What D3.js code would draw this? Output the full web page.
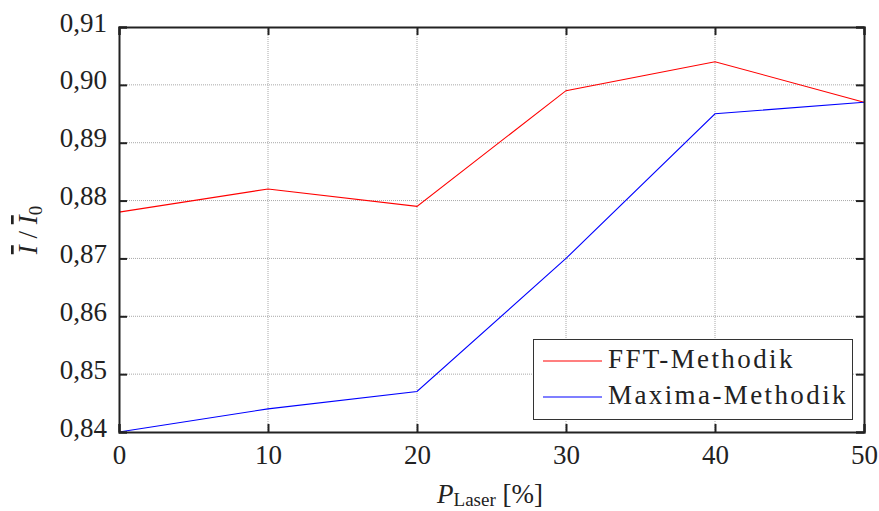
<!DOCTYPE html>
<html><head><meta charset="utf-8">
<script src="https://cdn.jsdelivr.net/npm/d3@7"></script>
<style>body{margin:0;background:#fff}svg{display:block}text{font-family:"Liberation Serif","DejaVu Serif",serif;fill:#222}</style>
</head><body><svg id="c" width="879" height="511"></svg>
<script>
const xValues = [0, 10, 20, 30, 40, 50];
const fftValues = [0.878, 0.882, 0.879, 0.899, 0.904, 0.897];
const maximaValues = [0.840, 0.844, 0.847, 0.870, 0.895, 0.897];
const xTicks = [0, 10, 20, 30, 40, 50];
const yTicks = [0.84, 0.85, 0.86, 0.87, 0.88, 0.89, 0.90, 0.91];
const seriesNames = ["FFT-Methodik", "Maxima-Methodik"];
const seriesColors = ["#ff0000", "#0000ff"];

const svg = d3.select("#c");
const L = 119, R = 864, T = 27, B = 432;
const x = d3.scaleLinear().domain([0, 50]).range([L, R]);
const y = d3.scaleLinear().domain([0.84, 0.91]).range([B, T]);
const fmt = d => d3.format(".2f")(d).replace(".", ",");
const FS = 27;

// grid
const g = svg.append("g");
g.selectAll(".gx").data(xTicks.slice(1, -1)).enter().append("line")
  .attr("x1", d => x(d)).attr("x2", d => x(d)).attr("y1", T).attr("y2", B)
  .attr("stroke", "#a8a8a8").attr("stroke-width", 1).attr("stroke-dasharray", "1,1");
g.selectAll(".gy").data(yTicks.slice(1, -1)).enter().append("line")
  .attr("y1", d => y(d)).attr("y2", d => y(d)).attr("x1", L).attr("x2", R)
  .attr("stroke", "#a8a8a8").attr("stroke-width", 1).attr("stroke-dasharray", "1,1");

// lines
const line = d3.line().x((d, i) => x(xValues[i])).y(d => y(d));
[fftValues, maximaValues].forEach((vals, k) => {
  svg.append("path").datum(vals).attr("d", line).attr("fill", "none")
    .attr("stroke", seriesColors[k]).attr("stroke-width", 1.1);
});

// axes (inward ticks)
const tk = 8;
const axB = svg.append("g").attr("transform", `translate(0,${B})`)
  .call(d3.axisBottom(x).tickValues(xTicks).tickSize(-tk).tickPadding(14).tickFormat(d3.format("d")));
const axT = svg.append("g").attr("transform", `translate(0,${T})`)
  .call(d3.axisTop(x).tickValues(xTicks).tickSize(-tk).tickFormat(""));
const axL = svg.append("g").attr("transform", `translate(${L},0)`)
  .call(d3.axisLeft(y).tickValues(yTicks).tickSize(-tk).tickPadding(12).tickFormat(fmt));
const axR = svg.append("g").attr("transform", `translate(${R},0)`)
  .call(d3.axisRight(y).tickValues(yTicks).tickSize(-tk).tickFormat(""));
[axB, axT, axL, axR].forEach(a => {
  a.select(".domain").attr("stroke", "#222").attr("stroke-width", 2);
  a.selectAll(".tick line").attr("stroke", "#222").attr("stroke-width", 2);
  a.selectAll("text").style("font-family", '"Liberation Serif","DejaVu Serif",serif')
    .style("font-size", FS + "px").attr("fill", "#222");
});
axL.selectAll("text").attr("dy", "4px");
axB.selectAll("text").attr("dy", "0.66em");

// legend
const lg = svg.append("g");
lg.append("rect").attr("x", 533.5).attr("y", 339.5).attr("width", 319).attr("height", 80)
  .attr("fill", "#fff").attr("stroke", "#333").attr("stroke-width", 1);
seriesNames.forEach((n, i) => {
  const yy = 361 + i * 36;
  lg.append("line").attr("x1", 543).attr("x2", 602).attr("y1", yy).attr("y2", yy)
    .attr("stroke", seriesColors[i]).attr("stroke-width", 1.1);
  lg.append("text").attr("x", 608).attr("y", yy + 7).style("font-size", FS + "px")
    .style("letter-spacing", "2.4px").text(n);
});

// x label
const xl = svg.append("text").attr("x", 490).attr("y", 503).attr("text-anchor", "middle").style("font-size", FS + "px");
xl.append("tspan").style("font-style", "italic").text("P");
xl.append("tspan").attr("dy", 3).style("font-size", "19px").text("Laser");
xl.append("tspan").attr("dy", -3).text(" [%]");

// y label
const yl = svg.append("text").attr("transform", "translate(37,230) rotate(-90)")
  .attr("text-anchor", "middle").style("font-size", FS + "px");
yl.append("tspan").style("font-style", "italic").style("text-decoration", "overline").text("I");
yl.append("tspan").text(" / ");
yl.append("tspan").style("font-style", "italic").style("text-decoration", "overline").text("I");
yl.append("tspan").attr("dy", 5).style("font-size", "19px").text("0");
</script></body></html>
